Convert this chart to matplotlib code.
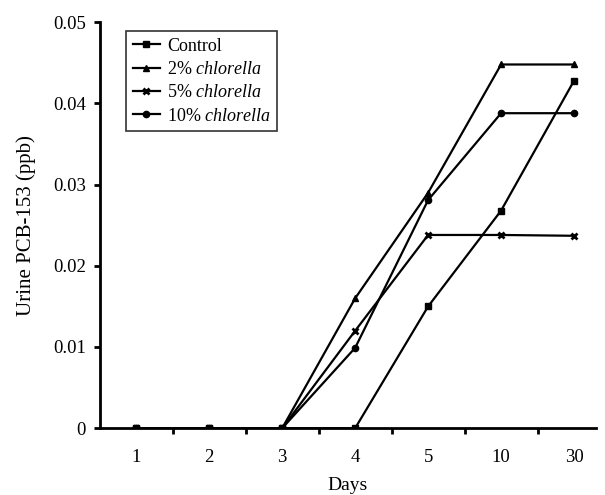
import matplotlib
matplotlib.use("Agg")
from matplotlib import pyplot as plt
from matplotlib.ticker import FixedLocator, FuncFormatter

days = ["1", "2", "3", "4", "5", "10", "30"]
control = [0, 0, 0, 0, 0.015, 0.0268, 0.0428]
chl2 = [0, 0, 0, 0.016, 0.029, 0.0448, 0.0448]
chl5 = [0, 0, 0, 0.012, 0.0238, 0.0238, 0.0237]
chl10 = [0, 0, 0, 0.0099, 0.0281, 0.0388, 0.0388]

plt.rcParams["font.family"] = "Liberation Serif"
plt.rcParams["font.size"] = 13.5
plt.rcParams["mathtext.fontset"] = "custom"
plt.rcParams["mathtext.it"] = "Liberation Serif:italic"
plt.rcParams["mathtext.rm"] = "Liberation Serif"

fig = plt.figure(figsize=(6.05, 4.95), dpi=100)
ax = fig.add_axes([0.165, 0.135, 0.82, 0.82])

x = list(range(len(days)))
ax.plot(x, control, color="black", lw=1.6, marker="s", ms=4.5, label="Control")
ax.plot(x, chl2, color="black", lw=1.6, marker="^", ms=4.5, label="2% $\\it{chlorella}$")
ax.plot(x, chl5, color="black", lw=1.6, marker="x", ms=5, mew=2, label="5% $\\it{chlorella}$")
ax.plot(x, chl10, color="black", lw=1.6, marker="o", ms=4.5, label="10% $\\it{chlorella}$")

ax.set_xlim(-0.5, 6.3)
ax.set_ylim(0, 0.05)
ax.set_xticks(x)
ax.set_xticklabels(days)
ax.tick_params(axis="x", which="major", length=0, pad=15)
ax.xaxis.set_minor_locator(FixedLocator([i + 0.5 for i in range(6)]))
ax.tick_params(axis="x", which="minor", length=4, width=2, direction="out")
ax.set_yticks([0, 0.01, 0.02, 0.03, 0.04, 0.05])
ax.yaxis.set_major_formatter(FuncFormatter(lambda v, p: "0" if v == 0 else f"{v:.2f}"))
ax.tick_params(axis="y", length=4, width=2, direction="out", pad=6)

for s in ["top", "right"]:
    ax.spines[s].set_visible(False)
for s in ["left", "bottom"]:
    ax.spines[s].set_linewidth(2)

ax.set_xlabel("Days", labelpad=8, fontsize=14)
ax.set_ylabel("Urine PCB-153 (ppb)", labelpad=12, fontsize=15)

leg = ax.legend(loc="upper left", bbox_to_anchor=(0.035, 1.0), frameon=True,
                fancybox=False, edgecolor="black", handlelength=1.5,
                handletextpad=0.4, borderpad=0.35, labelspacing=0.35,
                fontsize=13)
leg.get_frame().set_linewidth(1.2)

fig.savefig("out.png", dpi=100)
